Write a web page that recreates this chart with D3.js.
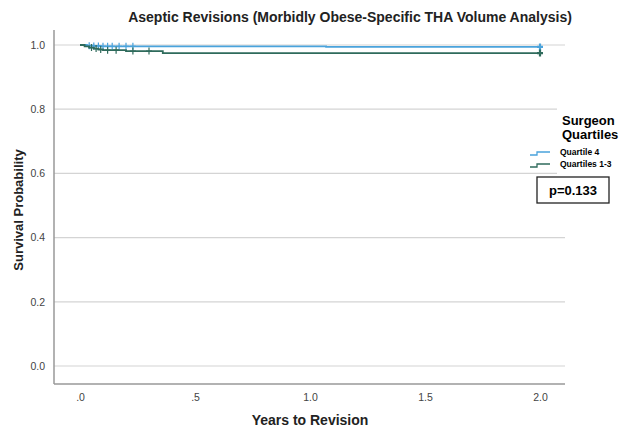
<!DOCTYPE html>
<html>
<head>
<meta charset="utf-8">
<script src="https://cdn.jsdelivr.net/npm/d3@7"></script>
<style>
  body { margin: 0; background: #fff; }
  svg { font-family: "Liberation Sans", Arial, sans-serif; }
</style>
</head>
<body>
<div id="chart"></div>
<script>
// Kaplan-Meier step data (years, survival)
const q4Times = [0, 0.03, 0.06, 0.09, 1.07, 2.0];
const q4Surv = [1.0, 0.998, 0.997, 0.996, 0.994, 0.994];
const q4Censor = [0.04, 0.06, 0.08, 0.1, 0.12, 0.14, 0.17, 0.2, 0.23, 2.0];

const q13Times = [0, 0.02, 0.04, 0.06, 0.08, 0.1, 0.2, 0.36, 2.0];
const q13Surv = [1.0, 0.996, 0.992, 0.989, 0.986, 0.984, 0.981, 0.975, 0.975];
const q13Censor = [0.05, 0.07, 0.09, 0.12, 0.157, 0.23, 0.3, 2.0];

const xTicks = [0, 0.5, 1.0, 1.5, 2.0];
const yTicks = [0, 0.2, 0.4, 0.6, 0.8, 1.0];
const groups = ["Quartile 4", "Quartiles 1-3"];
const colors = ["#4aa3dc", "#2f6b5c"];

const width = 619, height = 430;
const svg = d3.select("#chart").append("svg")
  .attr("width", width).attr("height", height);

const x = d3.scaleLinear().domain([0, 2]).range([80, 540]);
const y = d3.scaleLinear().domain([0, 1]).range([366, 45]);

// gridlines
svg.append("g")
  .selectAll("line")
  .data(yTicks)
  .enter()
  .append("line")
  .attr("x1", 54).attr("x2", 565)
  .attr("y1", d => y(d)).attr("y2", d => y(d))
  .attr("stroke", "#d4d4d4").attr("stroke-width", 1.2);

// axes
const yAxis = svg.append("g")
  .attr("transform", "translate(54,0)")
  .call(d3.axisLeft(y).tickValues(yTicks).tickSize(0).tickPadding(9)
    .tickFormat(d3.format(".1f")));
yAxis.select(".domain").remove();

const xAxis = svg.append("g")
  .attr("transform", "translate(0,384)")
  .call(d3.axisBottom(x).tickValues(xTicks).tickSize(0).tickPadding(10)
    .tickFormat(d => d3.format(".1f")(d).replace(/^0/, "")));
xAxis.select(".domain").remove();

svg.selectAll(".tick text")
  .attr("fill", "#444").style("font-size", "10.5px");

svg.append("line")
  .attr("x1", 54).attr("x2", 54).attr("y1", 30).attr("y2", 384)
  .attr("stroke", "#999").attr("stroke-width", 1.5);
svg.append("line")
  .attr("x1", 54).attr("x2", 565).attr("y1", 384).attr("y2", 384)
  .attr("stroke", "#999").attr("stroke-width", 1.5);

// curves
const series = [
  { times: q4Times, surv: q4Surv, censor: q4Censor },
  { times: q13Times, surv: q13Surv, censor: q13Censor }
];

const line = d3.line()
  .x(d => x(d[0]))
  .y(d => y(d[1]))
  .curve(d3.curveStepAfter);

function survAt(s, t) {
  let v = s.surv[0];
  s.times.forEach((tt, i) => { if (tt <= t) v = s.surv[i]; });
  return v;
}

series.forEach((s, i) => {
  const pts = s.times.map((t, j) => [t, s.surv[j]]);
  svg.append("path")
    .attr("d", line(pts))
    .attr("fill", "none")
    .attr("stroke", colors[i])
    .attr("stroke-width", 1.8);

  svg.append("g")
    .selectAll("path")
    .data(s.censor)
    .enter()
    .append("path")
    .attr("d", t => {
      const cx = x(t), cy = y(survAt(s, t));
      return `M${cx - 3},${cy}h6M${cx},${cy - 3.5}v7`;
    })
    .attr("stroke", colors[i])
    .attr("stroke-width", t => t === 2.0 ? 2.2 : 1.2);
});

// legend
svg.append("rect")
  .attr("x", 557).attr("y", 98).attr("width", 62).attr("height", 112)
  .attr("fill", "#fff");

svg.append("text")
  .attr("x", 562).attr("y", 125)
  .style("font-size", "13px").style("font-weight", "bold")
  .text("Surgeon");
svg.append("text")
  .attr("x", 562).attr("y", 139)
  .style("font-size", "13px").style("font-weight", "bold")
  .text("Quartiles");

groups.forEach((g, i) => {
  const ly = 155 + i * 12;
  svg.append("path")
    .attr("d", `M530,${ly}h7v-3h13`)
    .attr("fill", "none")
    .attr("stroke", colors[i])
    .attr("stroke-width", 1.3);
  svg.append("text")
    .attr("x", 560).attr("y", ly)
    .style("font-size", "8.5px").style("font-weight", "bold")
    .text(g);
});

svg.append("rect")
  .attr("x", 537).attr("y", 177).attr("width", 72).attr("height", 26)
  .attr("fill", "#fff").attr("stroke", "#222").attr("stroke-width", 1.3);
svg.append("text")
  .attr("x", 573).attr("y", 195)
  .attr("text-anchor", "middle")
  .style("font-size", "13px").style("font-weight", "bold")
  .text("p=0.133");

// titles
svg.append("text")
  .attr("x", 350).attr("y", 22)
  .attr("text-anchor", "middle")
  .style("font-size", "14px").style("font-weight", "bold")
  .attr("fill", "#222")
  .text("Aseptic Revisions (Morbidly Obese-Specific THA Volume Analysis)");

svg.append("text")
  .attr("x", 310).attr("y", 425)
  .attr("text-anchor", "middle")
  .style("font-size", "14px").style("font-weight", "bold")
  .attr("fill", "#222")
  .text("Years to Revision");

svg.append("text")
  .attr("transform", "translate(23,210) rotate(-90)")
  .attr("text-anchor", "middle")
  .style("font-size", "13px").style("font-weight", "bold")
  .attr("fill", "#222")
  .text("Survival Probability");
</script>
</body>
</html>
